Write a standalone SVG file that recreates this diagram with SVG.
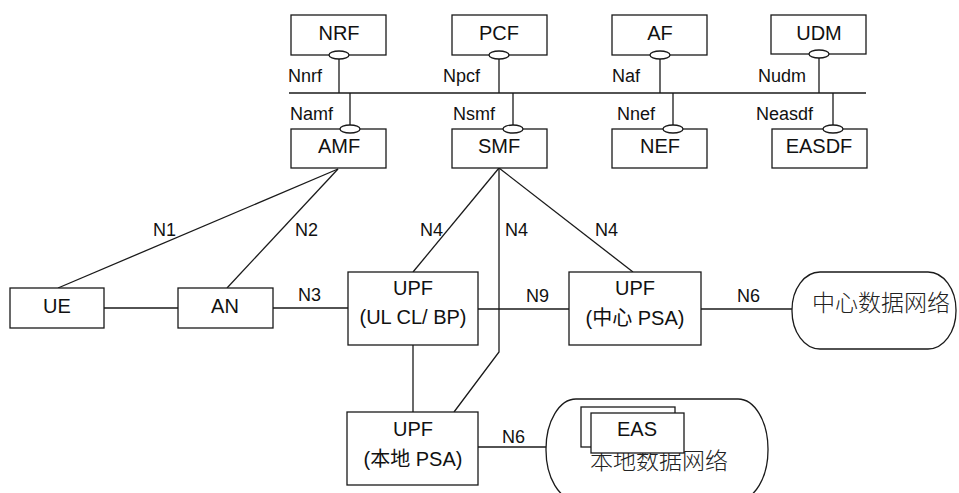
<svg xmlns="http://www.w3.org/2000/svg" width="959" height="493" viewBox="0 0 959 493">
<style>
.b{fill:#fff;stroke:#1a1a1a;stroke-width:1.3}
.o{fill:#fff;stroke:#1a1a1a;stroke-width:1.3}
.l{fill:none;stroke:#1a1a1a;stroke-width:1.3}
.t{font-family:"Liberation Sans","Noto Sans CJK SC",sans-serif;font-size:20px;fill:#111;text-anchor:middle}
.s{font-family:"Liberation Sans",sans-serif;font-size:18px;fill:#111}
.c{font-family:"Noto Sans CJK SC",sans-serif;font-size:23px;fill:#222;text-anchor:middle;font-weight:300}
</style>
<rect width="959" height="493" fill="#fff"/>
<g id="connectors">
<line class="l" x1="289" y1="93" x2="866" y2="93"/>
<line class="l" x1="339" y1="59" x2="339" y2="93"/>
<line class="l" x1="499" y1="59" x2="499" y2="93"/>
<line class="l" x1="660" y1="59" x2="660" y2="93"/>
<line class="l" x1="819" y1="58" x2="819" y2="93"/>
<line class="l" x1="350" y1="93" x2="350" y2="125"/>
<line class="l" x1="513" y1="93" x2="513" y2="125"/>
<line class="l" x1="673" y1="93" x2="673" y2="125"/>
<line class="l" x1="833" y1="93" x2="833" y2="125"/>
<line class="l" x1="338" y1="169" x2="58" y2="288"/>
<line class="l" x1="338" y1="169" x2="227" y2="288"/>
<line class="l" x1="104" y1="308" x2="178" y2="308"/>
<line class="l" x1="273" y1="308" x2="348" y2="308"/>
<line class="l" x1="499" y1="168" x2="413" y2="272"/>
<polyline class="l" points="499,168 499,352 454,412"/>
<line class="l" x1="499" y1="168" x2="633" y2="272"/>
<line class="l" x1="478" y1="309" x2="569" y2="309"/>
<line class="l" x1="701" y1="309" x2="792" y2="309"/>
<line class="l" x1="413" y1="345" x2="413" y2="412"/>
<line class="l" x1="478" y1="447" x2="546" y2="447"/>
<text class="s" x="288" y="82">Nnrf</text>
<text class="s" x="443" y="82">Npcf</text>
<text class="s" x="612" y="82">Naf</text>
<text class="s" x="758" y="82">Nudm</text>
<text class="s" x="290" y="120">Namf</text>
<text class="s" x="453" y="120">Nsmf</text>
<text class="s" x="617" y="120">Nnef</text>
<text class="s" x="756" y="120">Neasdf</text>
<text class="s" x="153" y="236">N1</text>
<text class="s" x="295" y="236">N2</text>
<text class="s" x="298" y="301">N3</text>
<text class="s" x="420" y="236">N4</text>
<text class="s" x="505" y="236">N4</text>
<text class="s" x="595" y="236">N4</text>
<text class="s" x="526" y="302">N9</text>
<text class="s" x="737" y="302">N6</text>
<text class="s" x="502" y="443">N6</text>
</g>
<g id="NRF"><rect class="b" x="291" y="15" width="95" height="40"/><ellipse class="o" cx="339" cy="55" rx="10" ry="4"/><text class="t" x="339" y="40">NRF</text></g>
<g id="PCF"><rect class="b" x="452" y="15" width="95" height="40"/><ellipse class="o" cx="499" cy="55" rx="10" ry="4"/><text class="t" x="499" y="40">PCF</text></g>
<g id="AF"><rect class="b" x="612" y="15" width="95" height="40"/><ellipse class="o" cx="660" cy="55" rx="10" ry="4"/><text class="t" x="660" y="40">AF</text></g>
<g id="UDM"><rect class="b" x="771" y="15" width="95" height="39"/><ellipse class="o" cx="819" cy="54" rx="10" ry="4"/><text class="t" x="819" y="40">UDM</text></g>
<g id="AMF"><rect class="b" x="291" y="129" width="95" height="39"/><ellipse class="o" cx="350" cy="129" rx="10" ry="4"/><text class="t" x="339" y="153">AMF</text></g>
<g id="SMF"><rect class="b" x="452" y="129" width="95" height="39"/><ellipse class="o" cx="513" cy="129" rx="10" ry="4"/><text class="t" x="499" y="153">SMF</text></g>
<g id="NEF"><rect class="b" x="612" y="129" width="95" height="39"/><ellipse class="o" cx="673" cy="129" rx="10" ry="4"/><text class="t" x="660" y="153">NEF</text></g>
<g id="EASDF"><rect class="b" x="772" y="129" width="95" height="39"/><ellipse class="o" cx="833" cy="129" rx="10" ry="4"/><text class="t" x="819" y="153">EASDF</text></g>
<g id="UE"><rect class="b" x="10" y="288" width="94" height="40"/><text class="t" x="57" y="313">UE</text></g>
<g id="AN"><rect class="b" x="178" y="288" width="95" height="40"/><text class="t" x="225" y="313">AN</text></g>
<g id="UPF-ULCL"><rect class="b" x="348" y="272" width="130" height="73"/><text class="t" x="413" y="295">UPF</text><text class="t" x="413" y="324">(UL CL/ BP)</text></g>
<g id="UPF-center"><rect class="b" x="569" y="272" width="132" height="73"/><text class="t" x="635" y="295">UPF</text><text class="t" x="635" y="325">(中心 PSA)</text></g>
<g id="UPF-local"><rect class="b" x="347" y="412" width="131" height="73"/><text class="t" x="413" y="436">UPF</text><text class="t" x="413" y="466">(本地 PSA)</text></g>
<g id="DN-center"><rect class="b" x="792" y="272" width="164" height="77" rx="28" ry="38"/><text class="c" x="881" y="311">中心数据网络</text></g>
<g id="DN-local"><rect class="b" x="546" y="399" width="222" height="101" rx="30" ry="50"/><text class="c" x="659" y="469">本地数据网络</text>
<rect class="b" x="581" y="407" width="94" height="40"/><rect class="b" x="591" y="413" width="93" height="40"/><text class="t" x="637" y="436">EAS</text></g>
</svg>
